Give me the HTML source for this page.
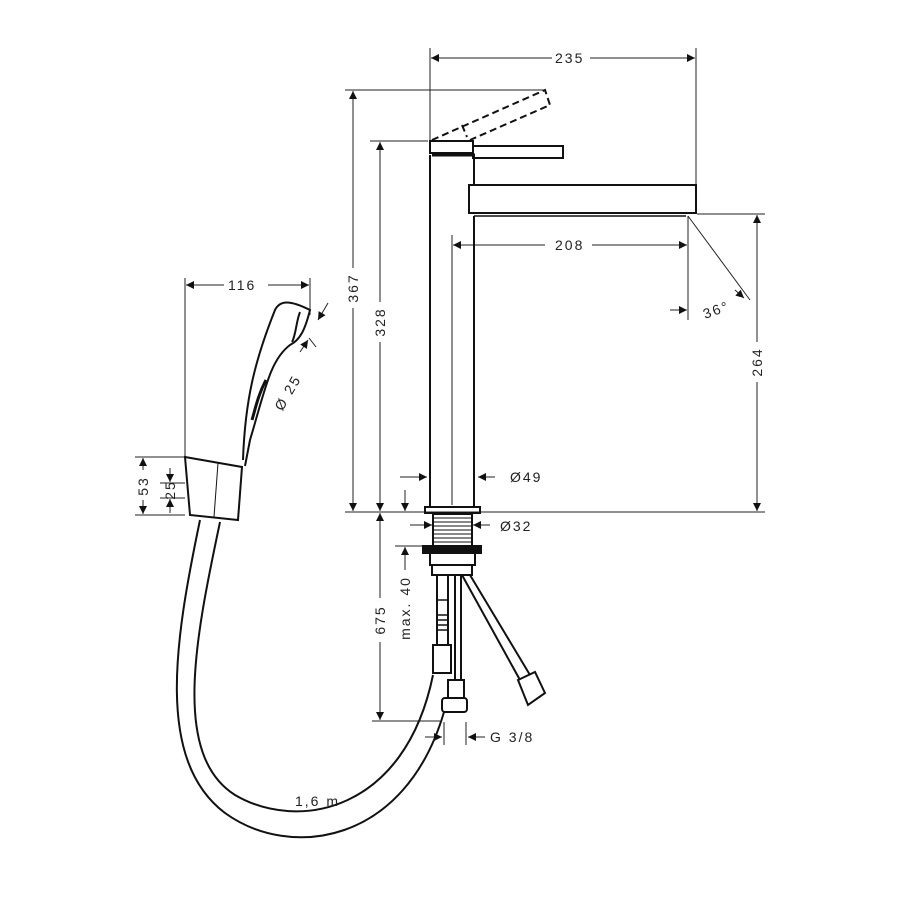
<!DOCTYPE html>
<html><head><meta charset="utf-8"><style>
html,body{margin:0;padding:0;background:#fff}
svg{display:block}
text{font-family:"Liberation Sans",sans-serif;font-size:14px;fill:#222;letter-spacing:2px}
</style></head><body>
<svg width="900" height="900" viewBox="0 0 900 900" xmlns="http://www.w3.org/2000/svg">
<defs>
<marker id="a" viewBox="0 0 10 10" refX="10" refY="5" markerWidth="10" markerHeight="8" orient="auto-start-reverse" markerUnits="userSpaceOnUse"><path d="M0,0 L10,5 L0,10 z" fill="#111"/></marker>
</defs>
<g stroke="#222" stroke-width="1" fill="none">
<line x1="430" y1="48" x2="430" y2="140"/><line x1="696" y1="48" x2="696" y2="185"/>
<line x1="431" y1="58" x2="552" y2="58" marker-start="url(#a)"/><line x1="590" y1="58" x2="695" y2="58" marker-end="url(#a)"/>
<line x1="345" y1="90" x2="545" y2="90"/>
<line x1="353" y1="91" x2="353" y2="268" marker-start="url(#a)"/><line x1="353" y1="308" x2="353" y2="511" marker-end="url(#a)"/>
<line x1="370" y1="141" x2="428" y2="141"/>
<line x1="380" y1="142" x2="380" y2="302" marker-start="url(#a)"/><line x1="380" y1="342" x2="380" y2="511" marker-end="url(#a)"/>
<line x1="345" y1="512" x2="765" y2="512"/>
<line x1="452" y1="235" x2="452" y2="505"/>
<line x1="453" y1="245" x2="545" y2="245" marker-start="url(#a)"/><line x1="592" y1="245" x2="687" y2="245" marker-end="url(#a)"/>
<line x1="688" y1="216" x2="688" y2="320"/>
<line x1="688" y1="216" x2="750" y2="300"/>
<line x1="670" y1="310" x2="687" y2="310" marker-end="url(#a)"/>
<line x1="735" y1="290" x2="744" y2="298" marker-end="url(#a)"/>
<line x1="697" y1="214" x2="765" y2="214"/>
<line x1="757" y1="215" x2="757" y2="342" marker-start="url(#a)"/><line x1="757" y1="382" x2="757" y2="511" marker-end="url(#a)"/>
<line x1="400" y1="477" x2="427" y2="477" marker-end="url(#a)"/><line x1="495" y1="477" x2="478" y2="477" marker-end="url(#a)"/>
<line x1="405" y1="490" x2="405" y2="511" marker-end="url(#a)"/>
<line x1="410" y1="525" x2="432" y2="525" marker-end="url(#a)"/><line x1="490" y1="525" x2="473" y2="525" marker-end="url(#a)"/>
<line x1="395" y1="546" x2="425" y2="546"/>
<line x1="405" y1="547" x2="405" y2="570" marker-start="url(#a)"/>
<line x1="380" y1="513" x2="380" y2="598" marker-start="url(#a)"/><line x1="380" y1="642" x2="380" y2="720" marker-end="url(#a)"/>
<line x1="372" y1="721" x2="440" y2="721"/>
<line x1="425" y1="737" x2="442" y2="737" marker-end="url(#a)"/><line x1="485" y1="737" x2="468" y2="737" marker-end="url(#a)"/>
<line x1="444" y1="722" x2="444" y2="745"/><line x1="466" y1="722" x2="466" y2="745"/>
<line x1="185" y1="278" x2="185" y2="460"/><line x1="310" y1="278" x2="310" y2="315"/>
<line x1="186" y1="285" x2="224" y2="285" marker-start="url(#a)"/><line x1="268" y1="285" x2="309" y2="285" marker-end="url(#a)"/>
<line x1="328" y1="303" x2="318" y2="320" marker-end="url(#a)"/>
<line x1="300" y1="352" x2="308" y2="340" marker-end="url(#a)"/>
<line x1="309" y1="338" x2="316" y2="347"/>
<line x1="135" y1="457" x2="185" y2="457"/><line x1="135" y1="515" x2="185" y2="515"/>
<line x1="160" y1="483" x2="185" y2="483"/><line x1="160" y1="498" x2="185" y2="498"/>
<line x1="143" y1="470" x2="143" y2="458" marker-end="url(#a)"/><line x1="143" y1="500" x2="143" y2="514" marker-end="url(#a)"/>
<line x1="170" y1="468" x2="170" y2="482" marker-end="url(#a)"/><line x1="170" y1="513" x2="170" y2="499" marker-end="url(#a)"/>
</g>
<g stroke="#111" stroke-width="2" fill="none">
<rect x="430" y="141" width="43" height="12"/>
<line x1="432" y1="155" x2="475" y2="155" stroke-width="3"/>
<rect x="473" y="146" width="90" height="12"/>
<line x1="430" y1="155" x2="430" y2="507"/><line x1="474" y1="155" x2="474" y2="185"/>
<line x1="474" y1="216" x2="474" y2="507"/>
<rect x="469" y="185" width="227" height="28"/>
<line x1="474" y1="216" x2="686" y2="216" stroke-width="1.5"/>
<rect x="425" y="507" width="55" height="6"/>
<rect x="433" y="514" width="39" height="32"/>
</g>
<g stroke="#111" stroke-width="1">
<line x1="434" y1="518" x2="471" y2="518"/><line x1="434" y1="522" x2="471" y2="522"/><line x1="434" y1="526" x2="471" y2="526"/><line x1="434" y1="530" x2="471" y2="530"/><line x1="434" y1="534" x2="471" y2="534"/><line x1="434" y1="538" x2="471" y2="538"/><line x1="434" y1="542" x2="471" y2="542"/>
</g>
<g stroke="#111" stroke-width="2" fill="none" stroke-dasharray="7,4">
<path d="M432,140 L545,90 L550,105 L470,140"/>
<path d="M462,125 L467,137"/>
</g>
<g stroke="#111" stroke-width="2" fill="none">
<rect x="423" y="546" width="58" height="7" fill="#111"/>
<rect x="430" y="553" width="45" height="12"/>
<rect x="432" y="565" width="40" height="10"/>
<line x1="437" y1="575" x2="437" y2="645"/><line x1="448" y1="575" x2="448" y2="645"/>
<rect x="433" y="645" width="18" height="28"/>
<line x1="455" y1="575" x2="455" y2="680"/><line x1="461" y1="575" x2="461" y2="680"/>
<rect x="448" y="680" width="16" height="18"/>
<rect x="442" y="698" width="25" height="14" rx="3"/>
<line x1="462" y1="575" x2="520" y2="680"/><line x1="470" y1="575" x2="530" y2="675"/>
<path d="M518,680 L535,672 L545,693 L528,705 Z"/>
</g>
<g stroke="#111" stroke-width="1.5">
<line x1="437" y1="600" x2="448" y2="600"/><line x1="437" y1="615" x2="448" y2="615"/><line x1="437" y1="620" x2="448" y2="620"/><line x1="437" y1="625" x2="448" y2="625"/><line x1="437" y1="630" x2="448" y2="630"/>
</g>
<g stroke="#111" stroke-width="2" fill="none">
<path d="M243,460 C245,400 255,360 275,310 C280,300 290,300 310,310 C305,330 300,340 290,345 C270,360 265,390 250,440 L245,466"/>
<path d="M300,312 C296,322 296,335 292,342"/>
<path d="M266,380 C258,395 255,410 252,420" stroke-width="3"/>
<path d="M185,457 L242,467 L238,520 L190,515 Z"/>
<line x1="218" y1="463" x2="214" y2="517" stroke-width="1"/>
<path d="M200,520 C175,640 155,760 225,813 C290,860 405,845 444,712"/>
<path d="M220,522 C195,640 172,755 235,795 C298,832 405,812 433,675"/>
</g>
<text x="555" y="63">235</text>
<text x="555" y="250">208</text>
<text x="702" y="315" transform="rotate(-20 715 308)">36°</text>
<text x="228" y="290">116</text>
<text x="510" y="482">Ø49</text>
<text x="500" y="531">Ø32</text>
<text x="490" y="742">G 3/8</text>
<text x="295" y="806">1,6 m</text>
<text transform="translate(358,288) rotate(-90)" text-anchor="middle">367</text>
<text transform="translate(385,322) rotate(-90)" text-anchor="middle">328</text>
<text transform="translate(762,362) rotate(-90)" text-anchor="middle">264</text>
<text transform="translate(385,620) rotate(-90)" text-anchor="middle">675</text>
<text transform="translate(410,608) rotate(-90)" text-anchor="middle">max. 40</text>
<text transform="translate(292,395) rotate(-60)" text-anchor="middle">Ø 25</text>
<text transform="translate(148,486) rotate(-90)" text-anchor="middle">53</text>
<text transform="translate(175,490) rotate(-90)" text-anchor="middle">25</text>
</svg>
</body></html>
